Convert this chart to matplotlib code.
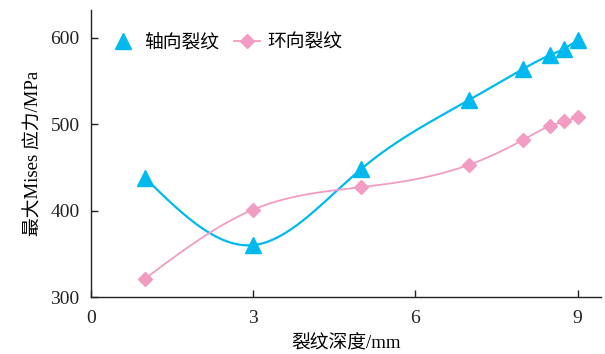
import numpy as np
import matplotlib
matplotlib.use("Agg")
from matplotlib import pyplot as plt

# crack depth (mm) and max Mises stress (MPa)
depth = [1, 3, 5, 7, 8, 8.5, 8.75, 9]
axial = [438, 360, 448, 528, 564, 580, 587, 597]
hoop = [321, 401, 427, 453, 482, 498, 503, 508]

BLUE = "#00b9ef"
PINK = "#f39cc3"


def spline(x, y, n=300):
    # natural cubic spline through the points
    x = np.asarray(x, float)
    y = np.asarray(y, float)
    k = len(x)
    h = np.diff(x)
    A = np.zeros((k, k))
    b = np.zeros(k)
    A[0, 0] = 1
    A[-1, -1] = 1
    for i in range(1, k - 1):
        A[i, i - 1] = h[i - 1]
        A[i, i] = 2 * (h[i - 1] + h[i])
        A[i, i + 1] = h[i]
        b[i] = 6 * ((y[i + 1] - y[i]) / h[i] - (y[i] - y[i - 1]) / h[i - 1])
    m = np.linalg.solve(A, b)
    xs = np.linspace(x[0], x[-1], n)
    idx = np.clip(np.searchsorted(x, xs) - 1, 0, k - 2)
    x0, x1 = x[idx], x[idx + 1]
    hh = x1 - x0
    t0 = x1 - xs
    t1 = xs - x0
    ys = (m[idx] * t0**3 + m[idx + 1] * t1**3) / (6 * hh) \
        + (y[idx] / hh - m[idx] * hh / 6) * t0 \
        + (y[idx + 1] / hh - m[idx + 1] * hh / 6) * t1
    return xs, ys


def main():
    plt.rcParams['font.family'] = ['Liberation Serif', 'Noto Sans CJK SC']
    fig = plt.figure(figsize=(6.05, 3.54), dpi=100)
    ax = fig.add_axes([0.150, 0.161, 0.843, 0.811])

    xs, ys = spline(depth, axial)
    ax.plot(xs, ys, color=BLUE, lw=1.6, zorder=2)
    ax.plot(depth, axial, ls="none", marker="^", ms=11, color=BLUE, zorder=3)
    xs, ys = spline(depth, hoop)
    ax.plot(xs, ys, color=PINK, lw=1.3, zorder=2)
    ax.plot(depth, hoop, ls="none", marker="D", ms=7.5, color=PINK, zorder=3)

    # legend proxies
    ax.plot([], [], color=BLUE, marker="^", ms=11, ls="none", label="轴向裂纹")
    ax.plot([], [], color=PINK, marker="D", ms=7.5, lw=1.3, label="环向裂纹")
    ax.legend(loc="upper left", ncol=2, frameon=False, bbox_to_anchor=(0.005, 0.985),
              prop={'family': ['Noto Sans CJK SC'], 'size': 13.5},
              handlelength=1.4, handletextpad=0.4, columnspacing=0.8)

    ax.set_xlim(0, 9.43)
    ax.set_ylim(300, 632)
    ax.set_xticks([0, 3, 6, 9])
    ax.set_yticks([300, 400, 500, 600])
    ax.tick_params(direction="in", length=5, width=1, labelsize=14, colors="#222222")
    ax.tick_params(axis="x", pad=9)
    ax.tick_params(axis="y", pad=8)
    ax.spines['top'].set_visible(False)
    ax.spines['right'].set_visible(False)
    for s in ('left', 'bottom'):
        ax.spines[s].set_color("#222222")
        ax.spines[s].set_linewidth(1)

    ax.set_xlabel("裂纹深度/mm", fontsize=13.5, labelpad=6)
    ax.set_ylabel("最大Mises 应力/MPa", fontsize=13.5, labelpad=6)

    fig.savefig("out.png", dpi=100)


if __name__ == '__main__':
    main()
